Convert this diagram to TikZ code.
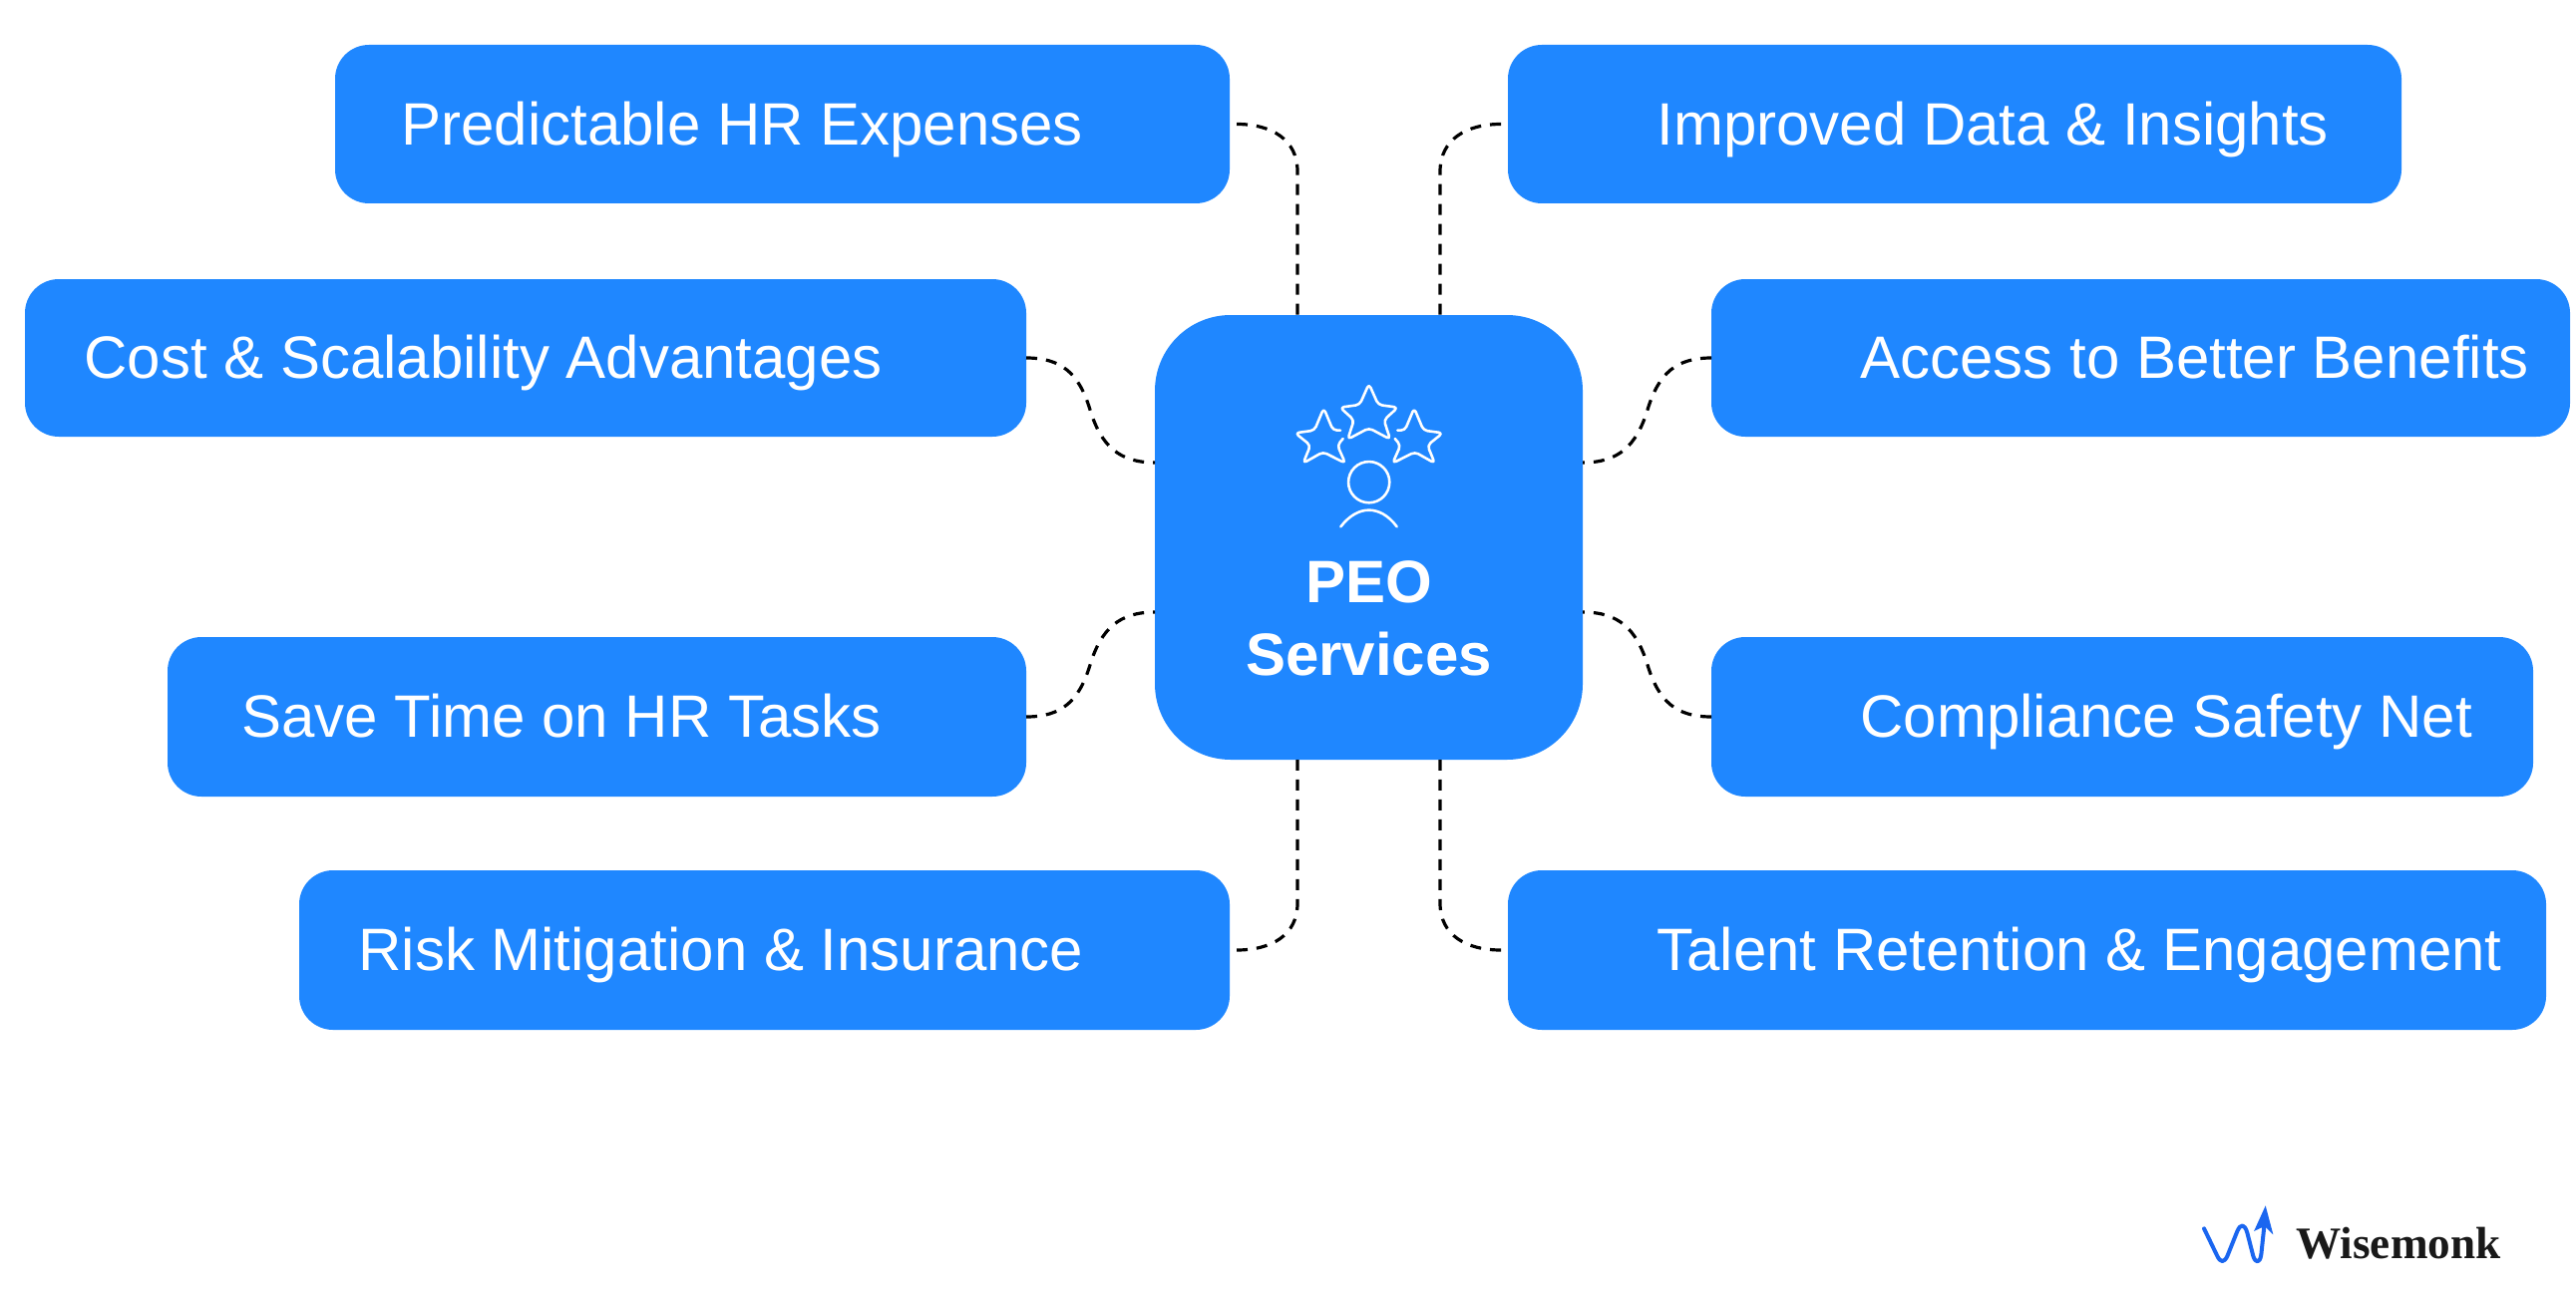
\documentclass[tikz,border=0pt]{standalone}
\usepackage{fontspec}
\setmainfont{Liberation Sans}
\newfontfamily\logofont{Liberation Serif}
\definecolor{peoblue}{HTML}{1F87FF}
\definecolor{logoblue}{HTML}{1A66F0}
\tikzset{
  box/.style={fill=peoblue,draw=none,rounded corners=17pt,inner sep=0pt,outer sep=0pt},
  lbl/.style={text=white,inner sep=0pt,anchor=base west,font=\fontsize{30pt}{36pt}\selectfont},
  conn/.style={draw=black,line width=1.6pt,dash pattern=on 5.5pt off 4.5pt},
  icon/.style={draw=white,line width=1.3pt,line cap=round,line join=round}
}
\newcommand{\bx}[5]{\node[box,minimum width={(#3-#2)*0.5pt},minimum height={(#5-#4)*0.5pt}] (#1) at ({(#2+#3)/2},{(#4+#5)/2}) {};}
\begin{document}
\begin{tikzpicture}[x=0.5pt,y=-0.5pt]
\useasboundingbox (0,0) rectangle (2583,1300);
\bx{pred}{336}{1233}{45}{204}
\bx{cost}{25}{1029}{280}{438}
\bx{save}{168}{1029}{639}{799}
\bx{risk}{300}{1233}{873}{1033}
\bx{data}{1512}{2408}{45}{204}
\bx{bene}{1716}{2577}{280}{438}
\bx{comp}{1716}{2540}{639}{799}
\bx{talent}{1512}{2553}{873}{1033}
\node[box,rounded corners=38pt,minimum width=214.5pt,minimum height=223pt] (peo) at (1372.5,539) {};
\node[lbl] (predt) at (402,146) {Predictable HR Expenses};
\node[lbl] (costt) at (84,379) {Cost \& Scalability Advantages};
\node[lbl] (savet) at (242,739) {Save Time on HR Tasks};
\node[lbl] (riskt) at (359,973) {Risk Mitigation \& Insurance};
\node[lbl] (datat) at (1661,146) {Improved Data \& Insights};
\node[lbl] (benet) at (1865,379) {Access to Better Benefits};
\node[lbl] (compt) at (1865,739) {Compliance Safety Net};
\node[lbl] (talentt) at (1661,973) {Talent Retention \& Engagement};
\node[text=white,inner sep=0pt,align=center,font=\fontsize{30pt}{36.5pt}\selectfont\bfseries] (peot) at (1372.5,620.5) {PEO\\Services};
% connector ends on the central box
\coordinate (tl) at (1301,316);
\coordinate (tr) at (1444,316);
\coordinate (bl) at (1301,762);
\coordinate (br) at (1444,762);
\coordinate (lu) at (1158,464);
\coordinate (ld) at (1158,614);
\coordinate (ru) at (1587,464);
\coordinate (rd) at (1587,614);
\draw[conn] ([xshift=3.5pt]pred.east) .. controls (1275,124.5) and (1301,140) .. (1301,172) -- (tl);
\draw[conn] ([xshift=-3.5pt]data.west) .. controls (1470,124.5) and (1444,140) .. (1444,172) -- (tr);
\draw[conn] ([xshift=3.5pt]risk.east) .. controls (1275,953) and (1301,938) .. (1301,906) -- (bl);
\draw[conn] ([xshift=-3.5pt]talent.west) .. controls (1470,953) and (1444,938) .. (1444,906) -- (br);
\draw[conn] (cost.east) .. controls (1065,359) and (1082,375) .. (1093,411) .. controls (1104,447) and (1122,464) .. (lu);
\draw[conn] (bene.west) .. controls (1680,359) and (1663,375) .. (1652,411) .. controls (1641,447) and (1623,464) .. (ru);
\draw[conn] (save.east) .. controls (1065,719) and (1082,703) .. (1093,667) .. controls (1104,631) and (1122,614) .. (ld);
\draw[conn] (comp.west) .. controls (1680,719) and (1663,703) .. (1652,667) .. controls (1641,631) and (1623,614) .. (rd);
% icon
\begin{scope}[shift={(1140,300)},x=0.16667pt,y=-0.16667pt]
\draw[icon,rounded corners=2pt] (612,395) -- (590,395) -- (562,328) -- (534,395) -- (476,403) -- (522,440) -- (500,494) -- (560,460) -- (627,494) -- (603,440) -- (620,420);
\draw[icon,rounded corners=2pt] (784,395) -- (806,395) -- (834,328) -- (862,395) -- (920,403) -- (874,440) -- (896,494) -- (836,460) -- (769,494) -- (793,440) -- (776,420);
\draw[icon,rounded corners=2pt] (698,255) -- (726,318) -- (785,326) -- (743,364) -- (762,422) -- (698,388) -- (634,422) -- (653,364) -- (611,326) -- (670,318) -- cycle;
\draw[icon] (698,551) circle[radius=10.3pt];
\draw[icon] (613,685) .. controls (640,650) and (670,635) .. (698,635) .. controls (726,635) and (756,650) .. (782,685);
\end{scope}
% logo
\begin{scope}[shift={(2180,1180)},x=0.16667pt,y=-0.16667pt]
\draw[logoblue,line width=2pt,line cap=round,line join=round] (90,157) -- (130,240) .. controls (140,260) and (150,260) .. (160,240) -- (190,165) .. controls (200,142) and (212,142) .. (220,170) -- (238,240) .. controls (245,262) and (258,262) .. (262,235) -- (272,140);
\fill[logoblue] (275,88) -- (298,175) -- (272,150) -- (240,165) -- cycle;
\end{scope}
\node[inner sep=0pt,anchor=base west,font=\fontsize{22.6pt}{26pt}\logofont\bfseries,text=black!90] (logo) at (2302,1262) {Wisemonk};
\end{tikzpicture}
\end{document}
